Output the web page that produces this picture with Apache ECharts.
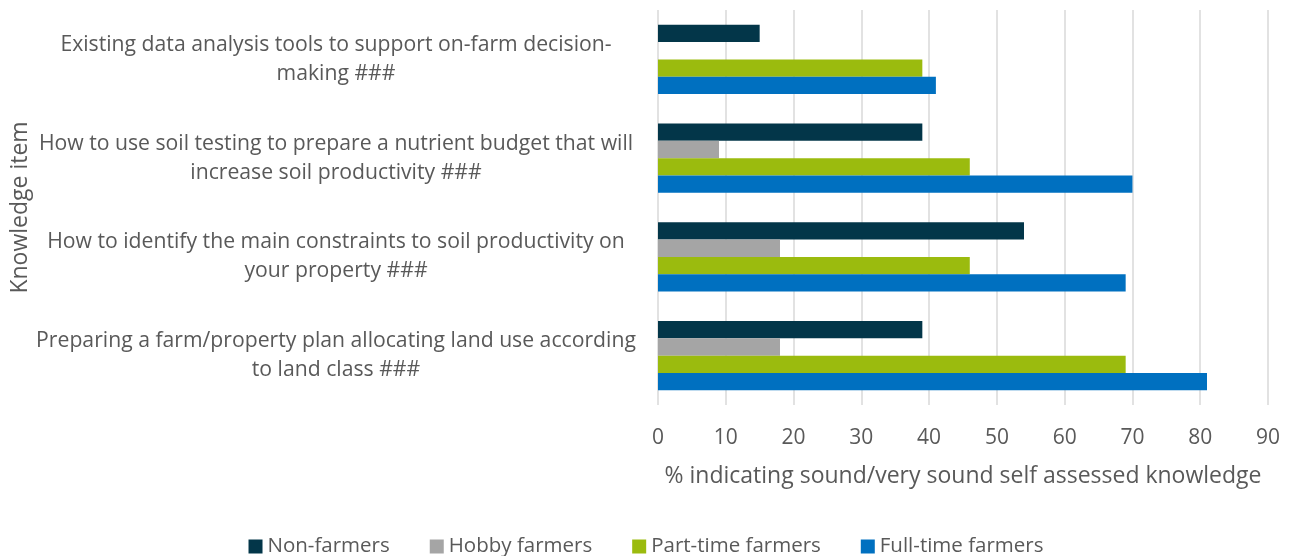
<!DOCTYPE html>
<html>
<head>
<meta charset="utf-8">
<script src="https://cdn.jsdelivr.net/npm/echarts@6/dist/echarts.min.js"></script>
<style>html,body{margin:0;padding:0;background:#fff}#c{width:1292px;height:556px}</style>
</head>
<body>
<div id="c"></div>
<script>
var categories = [
  'Existing data analysis tools to support on-farm decision-\nmaking ###',
  'How to use soil testing to prepare a nutrient budget that will\nincrease soil productivity ###',
  'How to identify the main constraints to soil productivity on\nyour property ###',
  'Preparing a farm/property plan allocating land use according\nto land class ###'
];
var seriesNames = ['Non-farmers', 'Hobby farmers', 'Part-time farmers', 'Full-time farmers'];
var nonFarmers = [15, 39, 54, 39];
var hobbyFarmers = [0, 9, 18, 18];
var partTimeFarmers = [39, 46, 46, 69];
var fullTimeFarmers = [41, 70, 69, 81];
var xTicks = [0, 10, 20, 30, 40, 50, 60, 70, 80, 90];

var colors = ['#033649', '#A5A5A5', '#9BBB0E', '#0070C0'];
var values = [nonFarmers, hobbyFarmers, partTimeFarmers, fullTimeFarmers];
var font = '"Open Sans", "Noto Sans", sans-serif';
var txt = '#595959';

var chart = echarts.init(document.getElementById('c'), null, {renderer: 'canvas'});
chart.setOption({
  animation: false,
  color: colors,
  textStyle: {fontFamily: font},
  grid: {left: 658, right: 24, top: 10, bottom: 151, containLabel: false},
  legend: {
    bottom: -6, left: 'center',
    itemWidth: 14, itemHeight: 14, itemGap: 40,
    icon: 'rect',
    textStyle: {color: txt, fontSize: 20.5, fontFamily: font},
    data: seriesNames
  },
  xAxis: {
    type: 'value', min: xTicks[0], max: xTicks[xTicks.length - 1], interval: 10,
    axisLine: {show: false}, axisTick: {show: false},
    splitLine: {show: true, lineStyle: {color: '#D9D9D9', width: 1.5}},
    axisLabel: {color: txt, fontSize: 21, margin: 23, fontFamily: font},
    name: '% indicating sound/very sound self assessed knowledge',
    nameLocation: 'middle', nameGap: 60,
    nameTextStyle: {color: txt, fontSize: 23, fontFamily: font}
  },
  yAxis: {
    type: 'category', inverse: true, data: categories,
    axisLine: {show: false}, axisTick: {show: false}, splitLine: {show: false},
    axisLabel: {color: txt, fontSize: 21.2, margin: 322, align: 'center', lineHeight: 29,
      padding: [7, 0, 0, 0], fontFamily: font},
    name: 'Knowledge item', nameLocation: 'middle', nameRotate: 90, nameGap: 625,
    nameTextStyle: {color: txt, fontSize: 23, fontFamily: font}
  },
  series: seriesNames.map(function (n, i) {
    return {
      name: n, type: 'bar', data: values[i],
      barGap: '0%', barCategoryGap: '30%',
      itemStyle: {color: colors[i]}
    };
  })
});
</script>
</body>
</html>
